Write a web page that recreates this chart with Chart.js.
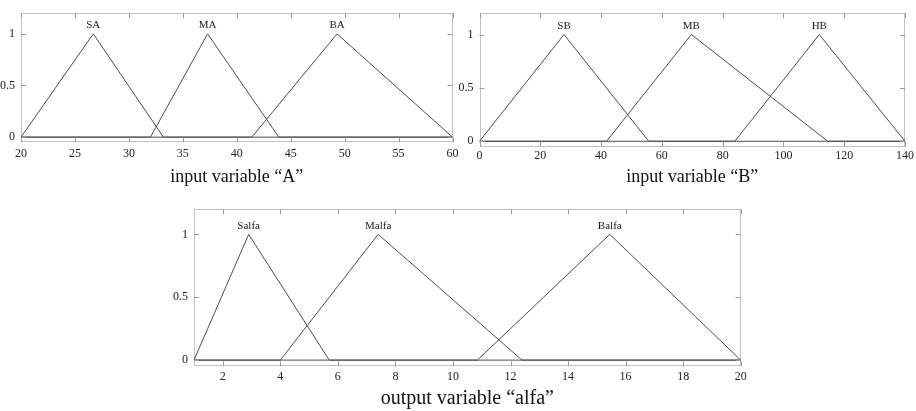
<!DOCTYPE html>
<html><head><meta charset="utf-8">
<script src="https://cdn.jsdelivr.net/npm/chart.js@4.4.1/dist/chart.umd.min.js"></script>
<style>
html,body{margin:0;padding:0;background:#fff;}
#wrap{position:relative;width:916px;height:411px;overflow:hidden;background:#fff;}
canvas{position:absolute;}
</style></head><body>
<div id="wrap">
<canvas id="cA" width="466" height="196" style="left:0px;top:0px"></canvas>
<canvas id="cB" width="466" height="196" style="left:450px;top:0px"></canvas>
<canvas id="cC" width="916" height="215" style="left:0px;top:196px"></canvas>
</div>
<script>
// ---- data ----
const yTicks = [0, 0.5, 1];

const A_range = [20, 60];
const A_ticks = [20, 25, 30, 35, 40, 45, 50, 55, 60];
const A_names = ['SA', 'MA', 'BA'];
const A_SA = [20, 26.7, 33.2];
const A_MA = [32, 37.3, 43.9];
const A_BA = [41.4, 49.3, 60];

const B_range = [0, 140];
const B_ticks = [0, 20, 40, 60, 80, 100, 120, 140];
const B_names = ['SB', 'MB', 'HB'];
const B_SB = [0, 27.8, 55.7];
const B_MB = [41.8, 69.7, 114.6];
const B_HB = [84, 111.8, 140];

const C_range = [1, 20];
const C_ticks = [2, 4, 6, 8, 10, 12, 14, 16, 18, 20];
const C_names = ['Salfa', 'Malfa', 'Balfa'];
const C_Salfa = [1, 2.9, 5.7];
const C_Malfa = [4, 7.4, 12.4];
const C_Balfa = [10.85, 15.45, 20];

// ---- helpers ----
const SERIF = "'Liberation Serif', 'DejaVu Serif', serif";

function tri(range, p) {
  return [{x: range[0], y: 0}, {x: p[0], y: 0}, {x: p[1], y: 1}, {x: p[2], y: 0}, {x: range[1], y: 0}];
}

const framePlugin = {
  id: 'frame',
  beforeDatasetsDraw(chart) {
    const {ctx, chartArea: a} = chart;
    ctx.save();
    ctx.strokeStyle = '#c2c2c2';
    ctx.lineWidth = 1;
    const l = Math.round(a.left) + 0.5, t = Math.round(a.top) + 0.5;
    const r = Math.round(a.right) - 0.5, b = Math.round(a.bottom) - 0.5;
    ctx.strokeRect(l, t, r - l, b - t);
    ctx.restore();
  },
  afterDatasetsDraw(chart, args, opts) {
    const {ctx, chartArea: a, scales} = chart;
    const xs = scales.x, ys = scales.y;
    ctx.save();
    ctx.strokeStyle = '#9c9c9c';
    ctx.lineWidth = 1;
    const L = 5;
    ctx.beginPath();
    opts.xTicks.forEach(v => {
      const px = Math.round(xs.getPixelForValue(v)) + 0.5;
      ctx.moveTo(px, a.bottom); ctx.lineTo(px, a.bottom - L);
      ctx.moveTo(px, a.top); ctx.lineTo(px, a.top + L);
    });
    opts.yTicks.forEach(v => {
      const py = Math.round(ys.getPixelForValue(v)) + 0.5;
      ctx.moveTo(a.left, py); ctx.lineTo(a.left + L, py);
      ctx.moveTo(a.right, py); ctx.lineTo(a.right - L, py);
    });
    ctx.stroke();
    // membership function names above peaks
    ctx.fillStyle = '#1a1a1a';
    ctx.font = '11px ' + SERIF;
    ctx.textAlign = 'center';
    ctx.textBaseline = 'bottom';
    opts.names.forEach((n, i) => {
      ctx.fillText(n, xs.getPixelForValue(opts.peaks[i]), ys.getPixelForValue(1) - 3);
    });
    ctx.restore();
  }
};

function makeChart(id, cfg) {
  const canvas = document.getElementById(id);
  const W = canvas.width, H = canvas.height;
  const a = cfg.area;
  const lh = cfg.titleSize * 1.2;
  return new Chart(canvas, {
    type: 'line',
    data: {
      datasets: cfg.mfs.map((p, i) => ({
        label: cfg.names[i],
        data: tri(cfg.range, p),
        borderColor: '#4d4d4d',
        borderWidth: 1,
        pointRadius: 0,
        fill: false,
        tension: 0
      }))
    },
    options: {
      responsive: false,
      animation: false,
      devicePixelRatio: 1,
      layout: {padding: {left: 0, top: a.t, right: W - a.r, bottom: 0}},
      plugins: {
        legend: {display: false},
        tooltip: {enabled: false},
        frame: {names: cfg.names, peaks: cfg.mfs.map(p => p[1]), xTicks: cfg.ticks, yTicks: yTicks}
      },
      scales: {
        x: {
          type: 'linear', position: 'bottom',
          min: cfg.range[0], max: cfg.range[1],
          grid: {display: false, drawTicks: false},
          border: {display: false},
          ticks: {autoSkip: false, maxRotation: 0, padding: cfg.xPad, color: '#222',
                  font: {family: SERIF, size: 12}, callback: v => String(v)},
          afterBuildTicks: s => { s.ticks = cfg.ticks.map(v => ({value: v})); },
          afterFit: s => { s.height = H - a.b; },
          title: {display: true, text: cfg.title, color: '#111',
                  font: {family: SERIF, size: cfg.titleSize},
                  padding: {top: 0, bottom: Math.max(0, H - cfg.titleY - lh / 2)}}
        },
        y: {
          type: 'linear', position: 'left',
          min: -0.05, max: 1.2,
          grid: {display: false, drawTicks: false},
          border: {display: false},
          ticks: {padding: 6, color: '#222', font: {family: SERIF, size: 12}, callback: v => String(v)},
          afterBuildTicks: s => { s.ticks = yTicks.map(v => ({value: v})); },
          afterFit: s => { s.width = a.l; }
        }
      }
    },
    plugins: [framePlugin]
  });
}

makeChart('cA', {
  range: A_range, ticks: A_ticks, names: A_names, mfs: [A_SA, A_MA, A_BA],
  area: {l: 21, t: 9.4, r: 452.5, b: 142.3}, xPad: 4,
  title: 'input variable \u201CA\u201D', titleSize: 18, titleY: 177
});
makeChart('cB', {
  range: B_range, ticks: B_ticks, names: B_names, mfs: [B_SB, B_MB, B_HB],
  area: {l: 29.5, t: 7, r: 456, b: 146.6}, xPad: 2,
  title: 'input variable \u201CB\u201D', titleSize: 18, titleY: 177
});
makeChart('cC', {
  range: C_range, ticks: C_ticks, names: C_names, mfs: [C_Salfa, C_Malfa, C_Balfa],
  area: {l: 194, t: 11.6, r: 740.7, b: 170.4}, xPad: 3,
  title: 'output variable \u201Calfa\u201D', titleSize: 20, titleY: 203
});
</script>
</body></html>
